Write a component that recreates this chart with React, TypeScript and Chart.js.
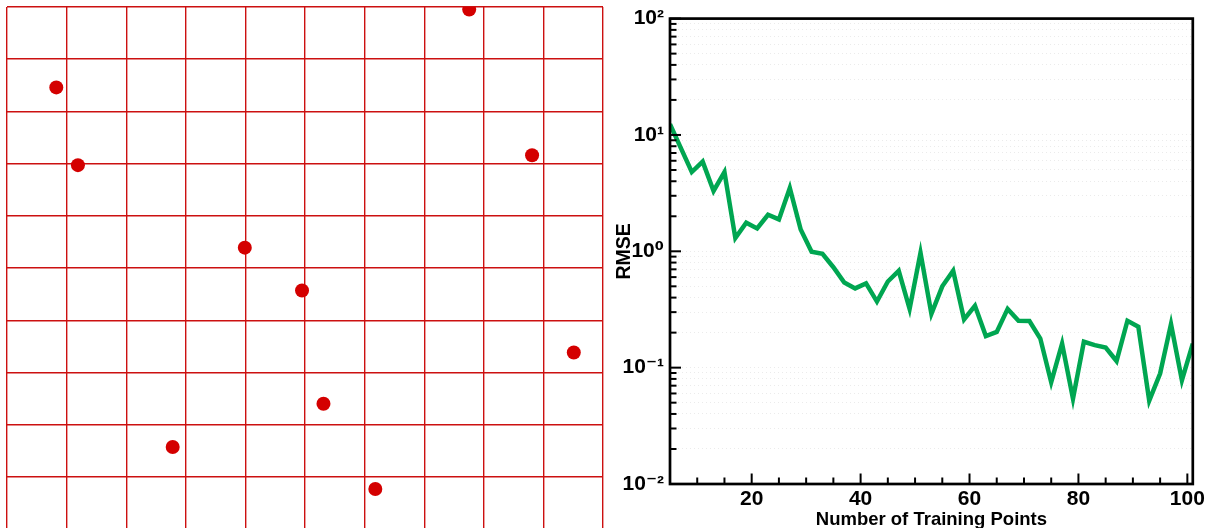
import React, { useEffect, useRef } from "react";
import { Chart, registerables } from "chart.js";

Chart.register(...registerables);

// ---- Left panel: Latin hypercube sample on a 10x10 grid ----
const lhsX = [0.7755, 0.0827, 0.119, 0.881, 0.399, 0.495, 0.951, 0.531, 0.278, 0.618];
const lhsY = [0.995, 0.846, 0.697, 0.716, 0.539, 0.457, 0.338, 0.24, 0.157, 0.0766];

// ---- Right panel: RMSE vs number of training points ----
const trainingPoints = [
  5, 7, 9, 11, 13, 15, 17, 19, 21, 23, 25, 27, 29, 31, 33, 35, 37, 39, 41, 43, 45, 47, 49, 51, 53,
  55, 57, 59, 61, 63, 65, 67, 69, 71, 73, 75, 77, 79, 81, 83, 85, 87, 89, 91, 93, 95, 97, 99, 101,
];
const rmse = [
  12.4, 7.7, 4.8, 5.9, 3.3, 4.8, 1.3, 1.76, 1.57, 2.06, 1.88, 3.5, 1.54, 0.99, 0.95, 0.73, 0.54,
  0.48, 0.53, 0.37, 0.55, 0.68, 0.32, 0.97, 0.29, 0.5, 0.68, 0.26, 0.34, 0.187, 0.203, 0.32, 0.253,
  0.252, 0.178, 0.075, 0.161, 0.054, 0.167, 0.156, 0.149, 0.114, 0.253, 0.225, 0.052, 0.089, 0.237,
  0.078, 0.161,
];
const xTickValues = [10, 15, 20, 25, 30, 35, 40, 45, 50, 55, 60, 65, 70, 75, 80, 85, 90, 95, 100];
const xMajorTicks = [20, 40, 60, 80, 100];
const yDecadeLabels: Record<string, string> = {
  "-2": "10\u207B\u00B2",
  "-1": "10\u207B\u00B9",
  "0": "10\u2070",
  "1": "10\u00B9",
  "2": "10\u00B2",
};

const FONT = "'Liberation Sans', Arial, Helvetica, 'DejaVu Sans', sans-serif";

function decadeOf(v: number): number | null {
  const l = Math.log10(v);
  const r = Math.round(l);
  return Math.abs(l - r) < 1e-9 ? r : null;
}

function isIntegerMantissa(v: number): boolean {
  const e = Math.floor(Math.log10(v) + 1e-9);
  const m = v / Math.pow(10, e);
  return Math.abs(m - Math.round(m)) < 1e-6;
}

const frameTicksPlugin = {
  id: "frameTicks",
  afterDatasetsDraw(chart: any) {
    const { ctx, chartArea: a, scales } = chart;
    const x = scales.x;
    const y = scales.y;
    ctx.save();
    ctx.strokeStyle = "#000";
    ctx.lineWidth = 2;
    y.ticks.forEach((t: any) => {
      const py = y.getPixelForValue(t.value);
      const len = decadeOf(t.value) !== null ? 11 : 6.5;
      ctx.beginPath();
      ctx.moveTo(a.left, py);
      ctx.lineTo(a.left + len, py);
      ctx.stroke();
    });
    x.ticks.forEach((t: any) => {
      const px = x.getPixelForValue(t.value);
      const len = xMajorTicks.includes(t.value) ? 10.5 : 6.5;
      ctx.beginPath();
      ctx.moveTo(px, a.bottom);
      ctx.lineTo(px, a.bottom - len);
      ctx.stroke();
    });
    ctx.lineWidth = 2.7;
    ctx.strokeRect(a.left, a.top, a.right - a.left, a.bottom - a.top);
    ctx.restore();
  },
};

function LhsChart() {
  const ref = useRef<HTMLCanvasElement | null>(null);
  useEffect(() => {
    if (!ref.current) return;
    const chart = new Chart(ref.current, {
      type: "scatter",
      data: {
        datasets: [
          {
            data: lhsX.map((x, i) => ({ x, y: lhsY[i] })),
            pointRadius: 7,
            pointHoverRadius: 7,
            backgroundColor: "#d40000",
            borderWidth: 0,
            clip: 0,
          } as any,
        ],
      },
      options: {
        animation: false,
        responsive: false,
        events: [],
        layout: { padding: { left: 6.5, top: 6.5, right: 6, bottom: 11 } },
        plugins: { legend: { display: false }, tooltip: { enabled: false } },
        scales: {
          x: {
            type: "linear",
            min: 0,
            max: 1,
            ticks: { display: false, stepSize: 0.1 },
            grid: { color: "#cc1010", lineWidth: 1.4, drawTicks: false },
            border: { display: false },
          },
          y: {
            type: "linear",
            min: 0,
            max: 1,
            ticks: { display: false, stepSize: 0.1 },
            grid: { color: "#cc1010", lineWidth: 1.4, drawTicks: false },
            border: { display: false },
          },
        },
      } as any,
    });
    return () => chart.destroy();
  }, []);
  return <canvas ref={ref} width={610} height={540} style={{ display: "block" }} />;
}

function RmseChart() {
  const ref = useRef<HTMLCanvasElement | null>(null);
  useEffect(() => {
    if (!ref.current) return;
    const chart = new Chart(ref.current, {
      type: "line",
      data: {
        datasets: [
          {
            data: trainingPoints.map((x, i) => ({ x, y: rmse[i] })),
            borderColor: "#00a651",
            borderWidth: 4.5,
            pointRadius: 0,
            tension: 0,
            borderJoinStyle: "miter",
            borderCapStyle: "butt",
            fill: false,
          } as any,
        ],
      },
      options: {
        animation: false,
        responsive: false,
        events: [],
        layout: { padding: { left: 0, top: 16, right: 13, bottom: 0 } },
        plugins: { legend: { display: false }, tooltip: { enabled: false } },
        scales: {
          x: {
            type: "linear",
            min: 5,
            max: 101,
            afterBuildTicks: (scale: any) => {
              scale.ticks = xTickValues.map((v) => ({ value: v }));
            },
            afterFit: (scale: any) => {
              scale.height = 44;
            },
            ticks: {
              autoSkip: false,
              maxRotation: 0,
              padding: 3,
              color: "#000",
              font: { family: FONT, size: 21, weight: "bold" },
              callback: (v: any) => (xMajorTicks.includes(Number(v)) ? String(v) : ""),
            },
            grid: { display: false, drawTicks: false },
            border: { display: false },
            title: {
              display: true,
              text: "Number of Training Points",
              color: "#000",
              font: { family: FONT, size: 18.5, weight: "bold", lineHeight: 1.2 },
              padding: { top: 0, bottom: -3 },
            },
          },
          y: {
            type: "logarithmic",
            min: 0.01,
            max: 100,
            afterBuildTicks: (scale: any) => {
              scale.ticks = scale.ticks.filter((t: any) => isIntegerMantissa(t.value));
            },
            afterFit: (scale: any) => {
              scale.width = 60;
            },
            ticks: {
              autoSkip: false,
              padding: 6,
              color: "#000",
              font: { family: FONT, size: 21, weight: "bold" },
              callback: (v: any) => {
                const d = decadeOf(Number(v));
                return d === null ? "" : yDecadeLabels[String(d)] || "";
              },
            },
            grid: {
              display: true,
              drawTicks: false,
              color: "rgba(0,0,0,0.08)",
              lineWidth: 1,
            },
            border: { display: false, dash: [1, 3] },
            title: {
              display: true,
              text: "RMSE",
              color: "#000",
              font: { family: FONT, size: 19.5, weight: "bold", lineHeight: 1.2 },
              padding: { top: 3, bottom: 0 },
            },
          },
        },
      } as any,
      plugins: [frameTicksPlugin],
    });
    return () => chart.destroy();
  }, []);
  return <canvas ref={ref} width={598} height={528} style={{ display: "block" }} />;
}

export default function App() {
  return (
    <div
      style={{
        position: "fixed",
        left: 0,
        top: 0,
        width: 1208,
        height: 528,
        background: "#fff",
        overflow: "hidden",
      }}
    >
      <div style={{ position: "absolute", left: 0, top: 0, width: 610, height: 528, overflow: "hidden" }}>
        <LhsChart />
      </div>
      <div style={{ position: "absolute", left: 610, top: 0, width: 598, height: 528 }}>
        <RmseChart />
      </div>
    </div>
  );
}
